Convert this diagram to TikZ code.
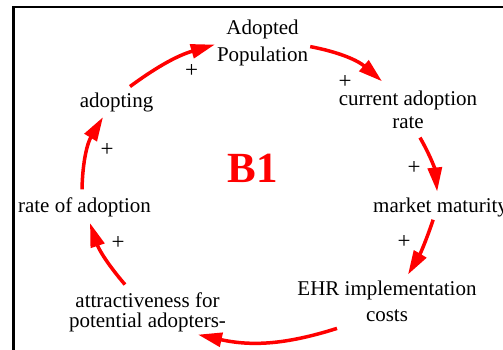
\documentclass[tikz,border=0pt]{standalone}
\usepackage{fontspec}
\setmainfont{Liberation Serif}
\usetikzlibrary{arrows.meta}

\begin{document}
\begin{tikzpicture}[x=1pt,y=1pt,
  var/.style={inner sep=2pt, align=center, font=\rmfamily\fontsize{21}{23}\selectfont},
  sign/.style={inner sep=0pt, font=\rmfamily\fontsize{23}{25}\selectfont},
  link/.style={draw=red, line width=3.5pt, -{Triangle[length=24pt,width=14pt]}}]
\useasboundingbox (0,0) rectangle (503,350);
\draw[line width=2.5pt] (13.5,0) -- (13.5,342.8) -- (503,342.8);
\node[var] (adopted) at (262.5,307.4) {Adopted\\[4pt]Population};
\node[var] (current) at (408,240.2) {current adoption\\rate};
\node[var,anchor=base west] (maturity) at (371,137) {market maturity};
\node[var] (costs) at (387,48.5) {EHR implementation\\[3pt]costs};
\node[var] (attract) at (147.5,37.2) {attractiveness for\\[-3pt]potential adopters-};
\node[var,anchor=base] (rate) at (84.5,137) {rate of adoption};
\node[var,anchor=base] (adopting) at (116.5,242) {adopting};
\node[text=red, font=\rmfamily\bfseries\fontsize{43}{48}\selectfont, anchor=base] (loop) at (252.5,167) {B1};
\draw[link] ([shift={(13.5,4.7)}]adopting.north) to[bend left=10] ([yshift=-2pt]adopted.west);
\draw[link] ([yshift=-4pt]adopted.east) to[bend left=15] ([shift={(-26,7.4)}]current.north);
\draw[link] ([shift={(12,-6.7)}]current.south) to[bend left=12] ([shift={(-3.4,4.7)}]maturity.north);
\draw[link] ([xshift=-7.4pt]maturity.south) to[bend left=6] ([shift={(21,4.4)}]costs.north);
\draw[link] ([shift={(-50,-4.3)}]costs.south) to[bend left=15] ([xshift=50.5pt]attract.south);
\draw[link] ([shift={(-22.5,6.4)}]attract.north) to[bend left=11] ([shift={(5.5,-3.4)}]rate.south);
\draw[link] ([shift={(-2.5,6.7)}]rate.north) to[bend left=15] ([shift={(-13.5,-2.4)}]adopting.south);
\node[sign] (s1) at (191.7,279) {+};
\node[sign] (s2) at (345,268.3) {+};
\node[sign] (s3) at (414,182.2) {+};
\node[sign] (s4) at (404,108) {+};
\node[sign] (s6) at (118,107) {+};
\node[sign] (s7) at (107,200.3) {+};
\end{tikzpicture}
\end{document}
